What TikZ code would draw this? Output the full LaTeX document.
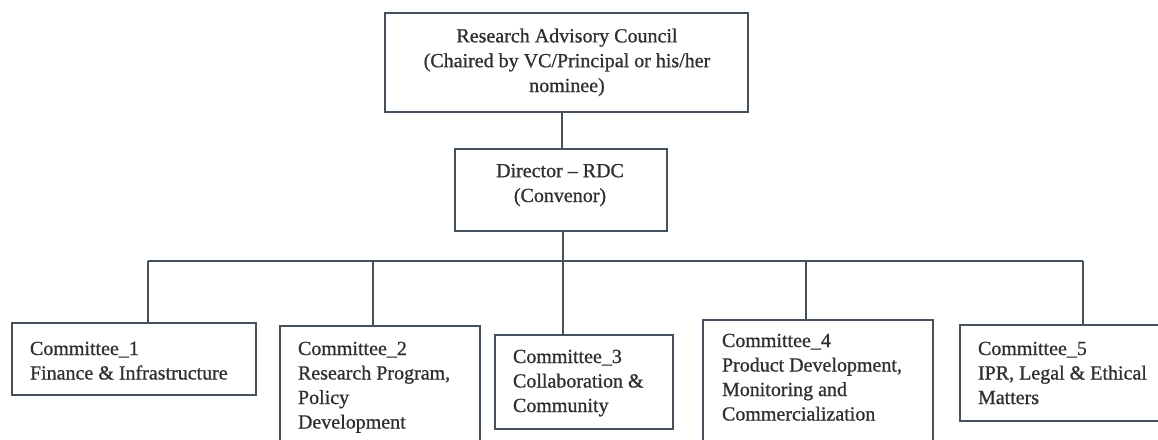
\documentclass[tikz,border=0pt]{standalone}
\usepackage{fontspec}
\setmainfont{Liberation Serif}[FakeBold=0.8]
\definecolor{linec}{HTML}{44505C}
\definecolor{textc}{HTML}{2F2F2F}
\tikzset{
  box/.style={draw=linec, line width=1.6pt, inner sep=0pt, outer sep=0pt, rectangle},
  conn/.style={draw=linec, line width=1.5pt},
  ctext/.style={inner sep=0pt, outer sep=0pt, align=center, text=textc, font=\fontsize{20}{24.8}\selectfont, anchor=base},
  ltext/.style={inner sep=0pt, outer sep=0pt, align=left, text=textc, font=\fontsize{20}{24.5}\selectfont, anchor=base west},
}
\begin{document}
\begin{tikzpicture}[x=1pt,y=-1pt]
\useasboundingbox (0,0) rectangle (1158,439);
\clip (0,0) rectangle (1158,439);
\fill[white] (0,0) rectangle (1158,439);
% boxes
\node[box, minimum width=363pt, minimum height=99pt] (rac) at (566.5,62.5) {};
\node[box, minimum width=212pt, minimum height=82pt] (dir) at (561,190) {};
\node[box, minimum width=244pt, minimum height=72pt] (c1) at (134,359) {};
\node[box, minimum width=200pt, minimum height=140pt] (c2) at (380,396) {};
\node[box, minimum width=178pt, minimum height=94pt] (c3) at (584,382) {};
\node[box, minimum width=230pt, minimum height=150pt] (c4) at (818,395) {};
\node[box, minimum width=220pt, minimum height=96pt] (c5) at (1070,373) {};
% texts (anchor = baseline of last line)
\node[ctext] (racT) at (567,92) {Research Advisory Council\\(Chaired by VC/Principal or his/her\\nominee)};
\node[ctext] (dirT) at (560,202) {Director -- RDC\\(Convenor)};
\node[ltext] (c1T) at (30,379.5) {Committee\_1\\Finance \& Infrastructure};
\node[ltext] (c2T) at (298,428.5) {Committee\_2\\Research Program,\\Policy\\Development};
\node[ltext] (c3T) at (513,412) {Committee\_3\\Collaboration \&\\Community};
\node[ltext] (c4T) at (722,420.5) {Committee\_4\\Product Development,\\Monitoring and\\Commercialization};
\node[ltext] (c5T) at (978,404) {Committee\_5\\IPR, Legal \& Ethical\\Matters};
% connectors
\coordinate (t1) at (148,261);
\coordinate (t2) at (373,261);
\coordinate (t3) at (563,261);
\coordinate (t4) at (806,261);
\coordinate (t5) at (1083,261);
\draw[conn] (rac.south -| 562,0) -- (dir.north -| 562,0);
\draw[conn] (dir.south -| t3) -- (t3);
\draw[conn] (t1) -- (t5);
\draw[conn] (t1) -- (t1 |- c1.north);
\draw[conn] (t2) -- (t2 |- c2.north);
\draw[conn] (t3) -- (t3 |- c3.north);
\draw[conn] (t4) -- (t4 |- c4.north);
\draw[conn] (t5) -- (t5 |- c5.north);
\end{tikzpicture}
\end{document}
